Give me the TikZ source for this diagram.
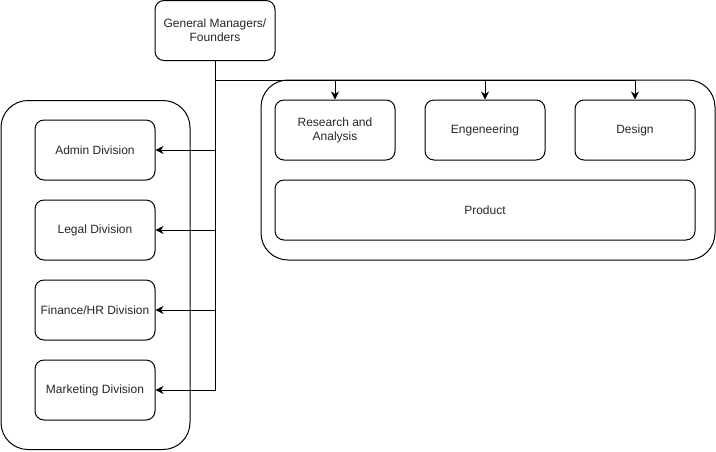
\documentclass[tikz,border=0pt]{standalone}
\usepackage{fontspec}
\setmainfont{Liberation Sans}
\usetikzlibrary{arrows.meta}
\begin{document}
\begin{tikzpicture}[x=1pt,y=-1pt,
  box/.style={draw=black, line width=1pt, rounded corners=9pt, minimum width=120pt, minimum height=60pt, inner sep=0pt, align=center, font=\fontsize{12}{14}\selectfont, text=black!85},
  cont/.style={draw=black, line width=1pt, rounded corners=27pt, inner sep=0pt},
  link/.style={draw=black, line width=1pt},
  arr/.style={link, -{Stealth[length=8pt,width=8pt,inset=2.5pt]}}
]
\useasboundingbox (0,0) rectangle (716,451);
% containers
\node[cont, minimum width=189pt, minimum height=349pt] (leftc) at (95.5,275) {};
\node[cont, minimum width=454pt, minimum height=180pt] (rightc) at (488,170) {};
% top node
\node[box] (gm) at (215,30.5) {General Managers/\\Founders};
% left divisions
\node[box] (admin) at (95,150) {Admin Division};
\node[box] (legal) at (95,230) {Legal Division};
\node[box] (fin) at (95,310) {Finance/HR Division};
\node[box] (mkt) at (95,390) {Marketing Division};
% right boxes
\node[box] (ra) at (335,130) {Research and\\Analysis};
\node[box] (eng) at (485,130) {Engeneering};
\node[box] (des) at (635,130) {Design};
\node[box, minimum width=420pt] (prod) at (485,210) {Product};
% connectors
\coordinate (j) at (215,80);
\draw[arr] (gm.south) -- (gm.south |- mkt.east) -- (mkt.east);
\draw[arr] (gm.south |- admin.east) -- (admin.east);
\draw[arr] (gm.south |- legal.east) -- (legal.east);
\draw[arr] (gm.south |- fin.east) -- (fin.east);
\draw[link] (j) -- (j -| des.north);
\draw[arr] (j -| ra.north) -- (ra.north);
\draw[arr] (j -| eng.north) -- (eng.north);
\draw[arr] (j -| des.north) -- (des.north);
\end{tikzpicture}
\end{document}
